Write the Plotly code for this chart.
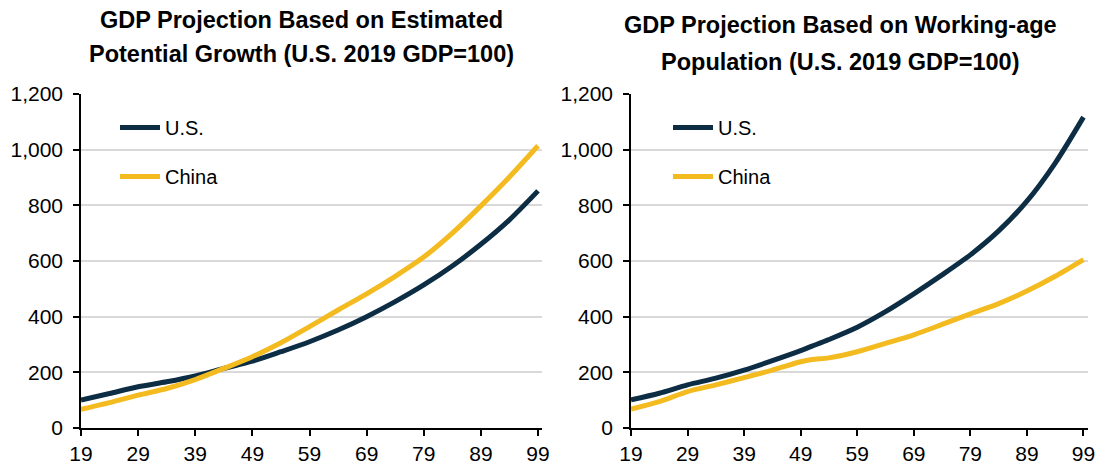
import plotly.graph_objects as go

years = [19, 24, 29, 34, 39, 44, 49, 54, 59, 64, 69, 74, 79, 84, 89, 94, 99]
us_potential = [100, 124, 148, 166, 187, 214, 240, 274, 310, 352, 400, 454, 514, 582, 660, 748, 852]
china_potential = [67, 91, 118, 142, 174, 214, 256, 306, 364, 424, 482, 545, 614, 700, 798, 902, 1014]

years_wa = [19, 24, 29, 34, 39, 44, 49, 51, 54, 59, 64, 69, 74, 79, 84, 89, 94, 99]
us_working = [101, 125, 155, 179, 208, 242, 278, 294, 318, 362, 418, 482, 550, 622, 708, 815, 952, 1117]
china_working = [68, 95, 131, 155, 181, 208, 238, 246, 252, 274, 304, 335, 372, 410, 447, 492, 545, 605]

x_ticks = [19, 29, 39, 49, 59, 69, 79, 89, 99]
y_ticks = [0, 200, 400, 600, 800, 1000, 1200]
y_tick_labels = ["0", "200", "400", "600", "800", "1,000", "1,200"]

title_lines = [
    ["GDP Projection Based on Estimated", "Potential Growth (U.S. 2019 GDP=100)"],
    ["GDP Projection Based on Working-age", "Population (U.S. 2019 GDP=100)"],
]

US_COLOR = "#0c2d43"
CN_COLOR = "#f3bb1f"
FONT = "Liberation Sans, Arial, sans-serif"
W, H = 1110, 464
TOP, BOT = 94, 428          # pixel rows of the plot area
PH = BOT - TOP


def py(px):
    """pixel row -> paper y"""
    return (BOT - px) / PH


fig = go.Figure()
series = [
    (years, us_potential, "U.S.", US_COLOR, "x", "y", "legend"),
    (years, china_potential, "China", CN_COLOR, "x", "y", "legend"),
    (years_wa, us_working, "U.S.", US_COLOR, "x2", "y2", "legend2"),
    (years_wa, china_working, "China", CN_COLOR, "x2", "y2", "legend2"),
]
for xs, ys, name, col, xa, ya, lg in series:
    fig.add_trace(go.Scatter(x=xs, y=ys, name=name, mode="lines",
                             line=dict(color=col, width=5, shape="spline", smoothing=0.8),
                             xaxis=xa, yaxis=ya, legend=lg, legendgroup=name + lg))


def xaxis(dom, rng, anchor):
    return dict(domain=dom, range=rng, tickvals=x_ticks, ticktext=[str(t) for t in x_ticks],
                showline=True, linecolor="#000000", linewidth=1.5, ticks="outside",
                ticklen=6, tickcolor="#000000", tickwidth=1.5, showgrid=False, zeroline=False,
                anchor=anchor, automargin=False,
                tickfont=dict(size=21, color="#000000", family=FONT))


def yaxis(anchor):
    return dict(domain=[0, 1], range=[0, 1200], tickvals=y_ticks, ticktext=y_tick_labels,
                showline=True, linecolor="#000000", linewidth=1.5, ticks="outside",
                ticklen=6, tickcolor="#000000", tickwidth=1.5, showgrid=True,
                gridcolor="#d9d9d9", gridwidth=1.5, zeroline=False, anchor=anchor,
                automargin=False, ticklabelstandoff=6,
                tickfont=dict(size=21, color="#000000", family=FONT))


legend_style = dict(xanchor="left", yanchor="top", bgcolor="rgba(0,0,0,0)",
                    font=dict(size=20, family=FONT, color="#000000"),
                    tracegroupgap=20, traceorder="grouped", itemwidth=40)

fig.update_layout(
    width=W, height=H,
    margin=dict(l=0, r=0, t=TOP, b=H - BOT),
    paper_bgcolor="white", plot_bgcolor="white",
    font=dict(family=FONT, color="#000000"),
    xaxis=xaxis([81 / W, 542 / W], [19, 99.7], "y"),
    yaxis=yaxis("x"),
    xaxis2=xaxis([631 / W, 1088 / W], [19, 99.8], "y2"),
    yaxis2=yaxis("x2"),
    legend=dict(x=115 / W, y=py(108), **legend_style),
    legend2=dict(x=668 / W, y=py(108), **legend_style),
    showlegend=True,
)

title_pos = [(301, [20, 54]), (840, [25, 62])]
for lines, (cx, rows) in zip(title_lines, title_pos):
    for text, row in zip(lines, rows):
        fig.add_annotation(text="<b>" + text + "</b>", x=cx / W, y=py(row),
                           xref="paper", yref="paper", xanchor="center", yanchor="middle",
                           showarrow=False,
                           font=dict(size=23.5, family=FONT, color="#000000"))

fig.write_html("out.html", config={"displayModeBar": False},
               post_script="document.body.style.margin='0';document.body.style.overflow='hidden';")
